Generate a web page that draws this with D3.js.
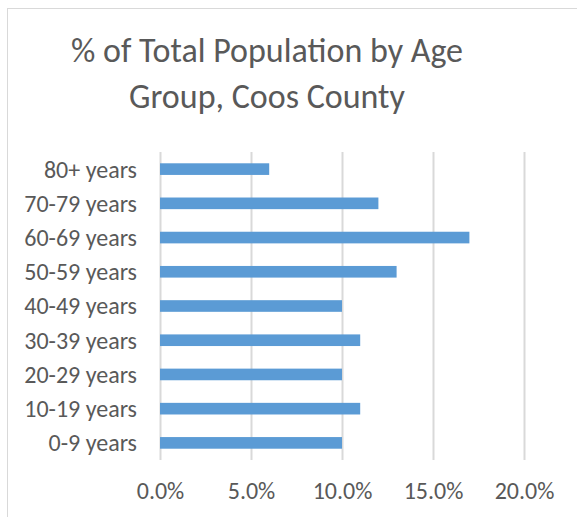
<!DOCTYPE html>
<html>
<head>
<meta charset="utf-8">
<script src="https://cdn.jsdelivr.net/npm/d3@7"></script>
<style>
  html, body { margin: 0; padding: 0; background: #fff; }
  svg { display: block; }
  text { font-family: Carlito, Calibri, Lato, "Open Sans", sans-serif; fill: #595959; }
</style>
</head>
<body>
<svg id="chart" width="577" height="517"></svg>
<script>
// Age groups, top to bottom
const categories = ["80+ years", "70-79 years", "60-69 years", "50-59 years", "40-49 years",
                    "30-39 years", "20-29 years", "10-19 years", "0-9 years"];
// Share of total population (%)
const values = [6.0, 12.0, 17.0, 13.0, 10.0, 11.0, 10.0, 11.0, 10.0];
const xTicks = [0, 5, 10, 15, 20];
const titleLines = ["% of Total Population by Age", "Group, Coos County"];

const svg = d3.select("#chart");
const W = 577, H = 517;
const plot = { left: 160, right: 524, top: 152, bottom: 460 };

// Chart frame (extends past the right and bottom edges)
svg.append("rect")
  .attr("x", 7.5).attr("y", 8.5)
  .attr("width", W + 20).attr("height", H + 20)
  .attr("fill", "#fff").attr("stroke", "#d9d9d9").attr("stroke-width", 1);

const x = d3.scaleLinear().domain([0, 20]).range([plot.left, plot.right]);
const y = d3.scaleBand().domain(categories).range([plot.top, plot.bottom]).paddingInner(0.66).paddingOuter(0.33);

// Title
svg.append("g").selectAll("text").data(titleLines).join("text")
  .attr("x", 267).attr("y", (d, i) => 62 + i * 46)
  .attr("text-anchor", "middle")
  .style("font-size", "34px")
  .text(d => d);

// Vertical gridlines
const xAxis = d3.axisBottom(x).tickValues(xTicks)
  .tickSize(-(plot.bottom - plot.top))
  .tickFormat(d => d3.format(".1f")(d) + "%");
const gx = svg.append("g").attr("transform", `translate(0,${plot.bottom})`).call(xAxis);
gx.select(".domain").remove();
gx.selectAll(".tick line").attr("stroke", "#d9d9d9").attr("stroke-width", 2);
gx.selectAll(".tick text").attr("y", 39).attr("dy", 0)
  .style("font-size", "24px").attr("fill", "#595959");

// Bars
svg.append("g").selectAll("rect").data(values).join("rect")
  .attr("x", x(0))
  .attr("y", (d, i) => y(categories[i]))
  .attr("width", d => x(d) - x(0))
  .attr("height", y.bandwidth())
  .attr("fill", "#5b9bd5");

// Category labels
const yAxis = d3.axisLeft(y).tickSize(0).tickPadding(23);
const gy = svg.append("g").attr("transform", `translate(${plot.left},0)`).call(yAxis);
gy.select(".domain").remove();
gy.selectAll(".tick text").style("font-size", "24px").attr("fill", "#595959").attr("dy", "0.35em");
</script>
</body>
</html>
